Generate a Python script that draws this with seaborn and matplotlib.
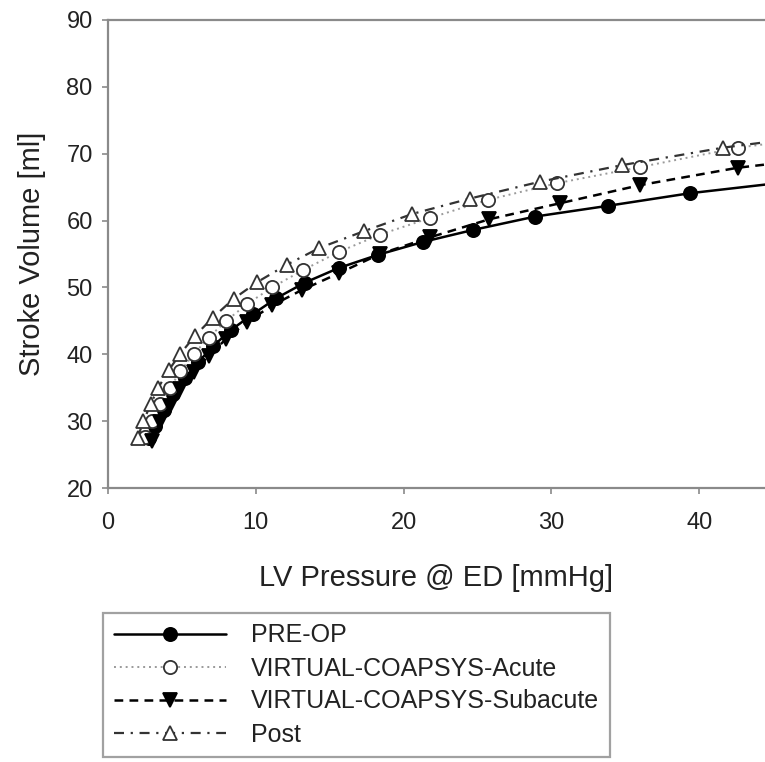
import pandas as pd
import seaborn as sns
import matplotlib.pyplot as plt

# ===============================
# DATA
# ===============================
pre_op_p = [2.8, 3.2, 3.8, 4.4, 5.2, 6.1, 7.1, 8.3, 9.8, 11.4, 13.3, 15.6, 18.3, 21.3, 24.7, 28.9, 33.8, 39.4, 46.5]
pre_op_sv = [27.5, 29.3, 31.6, 34.0, 36.4, 38.8, 41.2, 43.6, 46.0, 48.4, 50.7, 52.9, 54.9, 56.8, 58.6, 60.6, 62.2, 64.1, 65.9]

acute_p = [2.5, 3.0, 3.5, 4.2, 4.9, 5.8, 6.8, 8.0, 9.4, 11.1, 13.2, 15.6, 18.4, 21.8, 25.7, 30.4, 36.0, 42.6, 46.5]
acute_sv = [27.6, 30.0, 32.5, 35.0, 37.5, 40.0, 42.5, 45.0, 47.5, 50.0, 52.6, 55.3, 57.9, 60.4, 63.1, 65.6, 68.0, 70.9, 72.0]

subacute_p = [3.0, 3.5, 4.2, 4.9, 5.8, 6.8, 8.0, 9.4, 11.1, 13.1, 15.6, 18.4, 21.8, 25.8, 30.6, 36.0, 42.6, 46.5]
subacute_sv = [27.0, 29.8, 32.3, 34.8, 37.3, 39.8, 42.3, 44.8, 47.3, 49.6, 52.1, 55.0, 57.5, 60.2, 62.6, 65.3, 67.9, 68.9]

post_p = [2.0, 2.4, 2.9, 3.4, 4.1, 4.9, 5.9, 7.1, 8.5, 10.1, 12.1, 14.3, 17.3, 20.6, 24.5, 29.2, 34.8, 41.6, 46.5]
post_sv = [27.5, 30.0, 32.6, 35.0, 37.6, 40.1, 42.8, 45.5, 48.3, 50.8, 53.4, 55.9, 58.4, 61.0, 63.3, 65.8, 68.3, 70.9, 72.3]

labels = ["PRE-OP", "VIRTUAL-COAPSYS-Acute", "VIRTUAL-COAPSYS-Subacute", "Post"]
x_ticks = [0, 10, 20, 30, 40]
y_ticks = [20, 30, 40, 50, 60, 70, 80, 90]

# ===============================
# STYLE
# ===============================
sns.set_style("white")
plt.rcParams['font.family'] = ['Liberation Sans', 'DejaVu Sans']
text_col = "#222222"
spine_col = "#8a8a8a"

fig = plt.figure(figsize=(7.65, 7.62), dpi=100)
ax = fig.add_axes([108 / 765, 1 - 488 / 762, (765 - 108) / 765, (488 - 20) / 762])

series = [
    (pre_op_p, pre_op_sv, dict(color="black", linestyle="-", linewidth=1.8,
                               marker="o", markerfacecolor="black", markeredgecolor="black")),
    (acute_p, acute_sv, dict(color="#9a9a9a", linestyle=(0, (1, 2)), linewidth=1.4,
                             marker="o", markerfacecolor="white", markeredgecolor="#333333")),
    (subacute_p, subacute_sv, dict(color="black", linestyle=(0, (3.5, 2.5)), linewidth=1.8,
                                   marker="v", markerfacecolor="black", markeredgecolor="black")),
    (post_p, post_sv, dict(color="#333333", linestyle=(0, (4.5, 3, 1, 3)), linewidth=1.6,
                           marker="^", markerfacecolor="white", markeredgecolor="#333333")),
]

for (px, sv, kw), lab in zip(series, labels):
    df = pd.DataFrame({"p": px, "sv": sv})
    sns.lineplot(data=df, x="p", y="sv", ax=ax, label=lab, legend=False,
                 estimator=None, sort=False, markersize=9.5, markeredgewidth=1.3, **kw)

ax.set_xlim(0, 44.45)
ax.set_ylim(20, 90)
ax.set_xticks(x_ticks)
ax.set_yticks(y_ticks)

for side in ["left", "bottom", "top"]:
    ax.spines[side].set_color(spine_col)
    ax.spines[side].set_linewidth(1.6)
ax.spines["right"].set_visible(False)

ax.tick_params(axis="both", direction="out", length=4, width=1.2, color=spine_col,
               labelsize=17, labelcolor=text_col)
ax.tick_params(axis="x", pad=13, bottom=True)
ax.tick_params(axis="y", pad=7, left=True)

ax.set_xlabel("LV Pressure @ ED [mmHg]", fontsize=21, color=text_col, labelpad=22)
ax.set_ylabel("Stroke Volume [ml]", fontsize=21, color=text_col, labelpad=15)

handles, labs = ax.get_legend_handles_labels()
leg = fig.legend(handles, labs, loc="upper left", bbox_to_anchor=(103 / 765, 1 - 613 / 762),
                 frameon=True, fancybox=False, fontsize=18, handlelength=4.5,
                 handletextpad=1.0, labelspacing=0.36, borderpad=0.42, numpoints=1,
                 borderaxespad=0)
leg.get_frame().set_edgecolor(spine_col)
leg.get_frame().set_linewidth(1.6)
for t in leg.get_texts():
    t.set_color(text_col)

plt.savefig("out.png", dpi=100)
plt.close()
